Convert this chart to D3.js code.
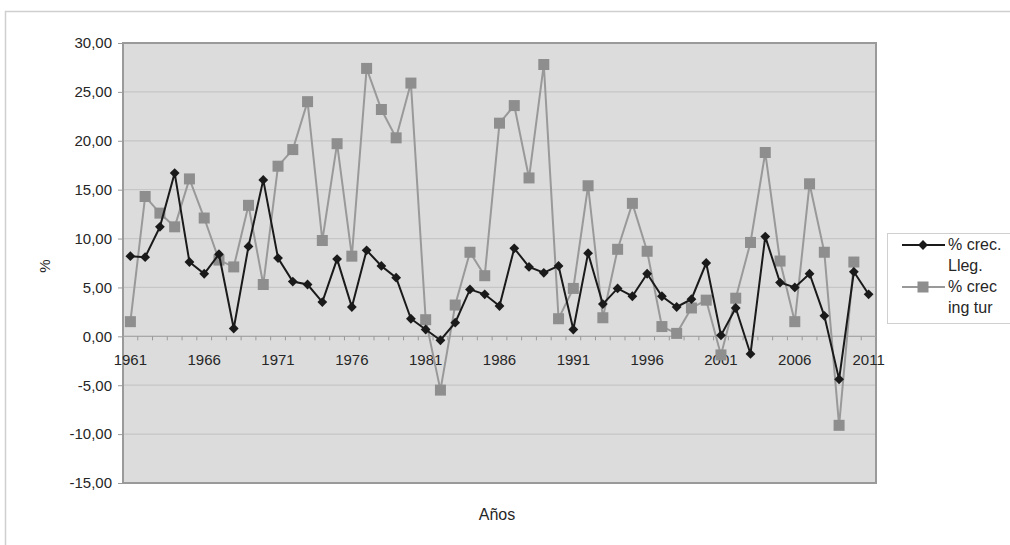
<!DOCTYPE html>
<html><head><meta charset="utf-8">
<script src="https://cdn.jsdelivr.net/npm/d3@7"></script>
<style>
html,body{margin:0;padding:0;background:#fff;}
svg{display:block;font-family:"Liberation Sans",Arial,sans-serif;}
</style></head>
<body><svg id="c" width="1010" height="545"></svg>
<script>
const years = [1961,1962,1963,1964,1965,1966,1967,1968,1969,1970,
  1971,1972,1973,1974,1975,1976,1977,1978,1979,1980,
  1981,1982,1983,1984,1985,1986,1987,1988,1989,1990,
  1991,1992,1993,1994,1995,1996,1997,1998,1999,2000,
  2001,2002,2003,2004,2005,2006,2007,2008,2009,2010,2011];
const crecLleg = [8.2,8.1,11.2,16.7,7.6,6.4,8.4,0.8,9.2,16.0,
  8.0,5.6,5.3,3.5,7.9,3.0,8.8,7.2,6.0,1.8,
  0.7,-0.4,1.4,4.8,4.3,3.1,9.0,7.1,6.5,7.2,
  0.7,8.5,3.3,4.9,4.1,6.4,4.1,3.0,3.8,7.5,
  0.1,2.9,-1.8,10.2,5.5,5.0,6.4,2.1,-4.4,6.6,4.3];
const crecIngTur = [1.5,14.3,12.6,11.2,16.1,12.1,7.8,7.1,13.4,5.3,
  17.4,19.1,24.0,9.8,19.7,8.2,27.4,23.2,20.3,25.9,
  1.7,-5.5,3.2,8.6,6.2,21.8,23.6,16.2,27.8,1.8,
  4.9,15.4,1.9,8.9,13.6,8.7,1.0,0.3,2.9,3.7,
  -1.9,3.9,9.6,18.8,7.7,1.5,15.6,8.6,-9.1,7.6,null];
const yTicks = [30,25,20,15,10,5,0,-5,-10,-15];
const xLabelYears = [1961,1966,1971,1976,1981,1986,1991,1996,2001,2006,2011];
const seriesNames = [["% crec.","Lleg."],["% crec","ing tur"]];

const svg = d3.select("#c");
const L=123, R=876, T=43, B=483;
const txt = "#262626";

// outer frame
svg.append("rect").attr("x",5.5).attr("y",11.5).attr("width",1100).attr("height",1000)
  .attr("fill","#fff").attr("stroke","#cfcfcf").attr("stroke-width",1.5);

const x = d3.scaleBand().domain(years).range([L,R]);
const y = d3.scaleLinear().domain([-15,30]).range([B,T]);
const cx = d => x(d) + x.bandwidth()/2;

// plot area
svg.append("rect").attr("x",L).attr("y",T).attr("width",R-L).attr("height",B-T)
  .attr("fill","#dcdcdc");

// gridlines
svg.append("g").selectAll("line").data(yTicks.filter(v=>v!==-15 && v!==30)).join("line")
  .attr("x1",L).attr("x2",R).attr("y1",d=>y(d)).attr("y2",d=>y(d))
  .attr("stroke","#c6c6c6").attr("stroke-width",1.2);

svg.append("rect").attr("x",L).attr("y",T).attr("width",R-L).attr("height",B-T)
  .attr("fill","none").attr("stroke","#9a9a9a").attr("stroke-width",2);

// y axis
const yAxis = d3.axisLeft(y).tickValues(yTicks).tickSize(5).tickPadding(6)
  .tickFormat(d=>d3.format(".2f")(d).replace(".",",").replace("\u2212","-"));
const gy = svg.append("g").attr("transform",`translate(${L},0)`).call(yAxis);
gy.select(".domain").remove();
gy.selectAll("line").attr("stroke","#999");
gy.selectAll("text").attr("font-size",15).attr("fill",txt);

// x axis along 0
const gx = svg.append("g").attr("transform",`translate(0,${y(0)})`);
gx.append("line").attr("x1",L).attr("x2",R).attr("stroke","#a8a8a8").attr("stroke-width",1.2);
gx.selectAll("line.t").data(years.concat([null])).join("line").attr("class","t")
  .attr("x1",(d,i)=> L + i*x.step()).attr("x2",(d,i)=> L + i*x.step())
  .attr("y1",0).attr("y2",4).attr("stroke","#999");
gx.selectAll("text").data(xLabelYears).join("text")
  .attr("x",d=>cx(d)).attr("y",29).attr("text-anchor","middle")
  .attr("font-size",15).attr("fill",txt).text(d=>d);

// series
const line = d3.line().defined(d=>d.v!==null).x(d=>cx(d.yr)).y(d=>y(d.v));
const s2 = years.map((yr,i)=>({yr, v:crecIngTur[i]}));
const s1 = years.map((yr,i)=>({yr, v:crecLleg[i]}));

svg.append("path").datum(s2).attr("d",line).attr("fill","none")
  .attr("stroke","#999").attr("stroke-width",2);
svg.append("g").selectAll("rect").data(s2.filter(d=>d.v!==null)).join("rect")
  .attr("x",d=>cx(d.yr)-5.5).attr("y",d=>y(d.v)-5.5).attr("width",11).attr("height",11)
  .attr("fill","#8e8e8e");

svg.append("path").datum(s1).attr("d",line).attr("fill","none")
  .attr("stroke","#1a1a1a").attr("stroke-width",2);
svg.append("g").selectAll("path").data(s1).join("path")
  .attr("transform",d=>`translate(${cx(d.yr)},${y(d.v)}) rotate(45)`)
  .attr("d",d3.symbol().type(d3.symbolSquare).size(48)).attr("fill","#1a1a1a");

// axis titles
svg.append("text").attr("transform","translate(50,266) rotate(-90)")
  .attr("text-anchor","middle").attr("font-size",15).attr("fill",txt).text("%");
svg.append("text").attr("x",497).attr("y",520).attr("text-anchor","middle")
  .attr("font-size",16).attr("fill",txt).text("Años");

// legend
const lg = svg.append("g");
lg.append("rect").attr("x",887.5).attr("y",233.5).attr("width",140).attr("height",90)
  .attr("fill","#fff").attr("stroke","#d0d0d0");
const legY = [245, 287];
const colors = ["#1a1a1a","#999"];
[0,1].forEach(i=>{
  lg.append("line").attr("x1",902).attr("x2",945).attr("y1",legY[i]).attr("y2",legY[i])
    .attr("stroke",colors[i]).attr("stroke-width",2);
  if(i===0){
    lg.append("path").attr("transform",`translate(923,${legY[i]}) rotate(45)`)
      .attr("d",d3.symbol().type(d3.symbolSquare).size(48)).attr("fill","#1a1a1a");
  } else {
    lg.append("rect").attr("x",923-5.5).attr("y",legY[i]-5.5).attr("width",11).attr("height",11).attr("fill","#8e8e8e");
  }
  seriesNames[i].forEach((t,j)=>{
    lg.append("text").attr("x",948).attr("y",legY[i]+5+j*21).attr("font-size",16)
      .attr("fill",txt).text(t);
  });
});
</script></body></html>
